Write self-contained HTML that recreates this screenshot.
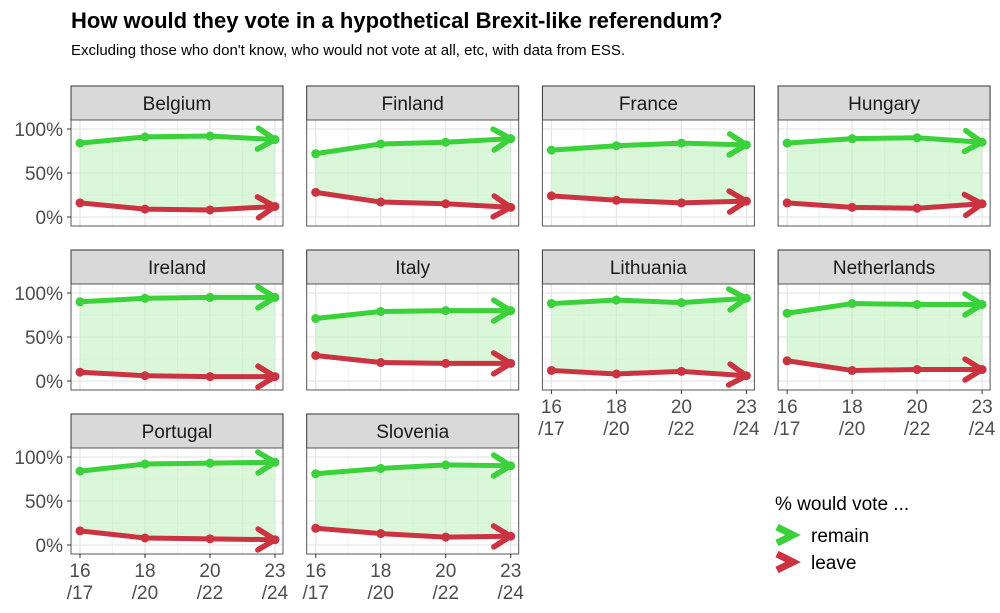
<!DOCTYPE html>
<html><head><meta charset="utf-8">
<style>
body{margin:0;background:#fff;}
svg{display:block;font-family:"Liberation Sans",Arial,sans-serif;}
</style></head>
<body>
<svg id="chart" width="1000" height="613" viewBox="0 0 1000 613">
<text x="71" y="28" font-size="22" font-weight="bold" fill="#000">How would they vote in a hypothetical Brexit-like referendum?</text>
<text x="71" y="55" font-size="15" fill="#000">Excluding those who don't know, who would not vote at all, etc, with data from ESS.</text>
<g id="panels"></g>
<g>
<text x="775" y="510" font-size="19" fill="#000">% would vote ...</text>
<g>
<path d="M777,527 L793,535 L777,543" fill="none" stroke="#3ad13a" stroke-width="7" stroke-linejoin="miter"/>
<text x="811" y="542" font-size="19" fill="#000">remain</text></g>
<g>
<path d="M777,554 L793,562 L777,570" fill="none" stroke="#cc3340" stroke-width="7" stroke-linejoin="miter"/>
<text x="811" y="569" font-size="19" fill="#000">leave</text></g>
</g>
</svg>
<script>
const countries = ["Belgium","Finland","France","Hungary","Ireland","Italy","Lithuania","Netherlands","Portugal","Slovenia"];
const waves = ["16/17","18/20","20/22","23/24"];
const remainValues = [
 [84,91,92,88],[72,83,85,89],[76,81,84,82],[84,89,90,85],
 [90,94,95,95],[71,79,80,80],[88,92,89,94],[77,88,87,87],
 [84,92,93,94],[81,87,91,90]];
const leaveValues = [
 [16,9,8,12],[28,17,15,11],[24,19,16,18],[16,11,10,15],
 [10,6,5,5],[29,21,20,20],[12,8,11,6],[23,12,13,13],
 [16,8,7,6],[19,13,9,10]];
const yTicks = [0,50,100];
const yTickLabels = ["0%","50%","100%"];

const NS="http://www.w3.org/2000/svg";
const root=document.getElementById('panels');
function mk(tag,attrs,parent){const e=document.createElementNS(NS,tag);for(const k in attrs)e.setAttribute(k,attrs[k]);(parent||root).appendChild(e);return e;}
const PW=212, colStep=235.7, rowStep=164, left0=71, stripTop0=86, stripH=34, plotH=106;
function panelGeom(i){const c=i%4,r=Math.floor(i/4);const x0=left0+c*colStep;const st=stripTop0+r*rowStep;return {x0,st,pt:st+stripH,c,r};}
function xs(g,j){return g.x0+9+j*(195/(waves.length-1));}
function ys(g,v){return g.pt+97-v*0.88;}
function arrowHead(g,parent,x1,y1,x2,y2,color){
  const a=Math.atan2(y2-y1,x2-x1),L=20,w=0.55;
  const p1=[x2-L*Math.cos(a-w),y2-L*Math.sin(a-w)],p2=[x2-L*Math.cos(a+w),y2-L*Math.sin(a+w)];
  return mk('path',{d:`M${p1[0]},${p1[1]} L${x2},${y2} L${p2[0]},${p2[1]}`,fill:'none',stroke:color,'stroke-width':5.5,'stroke-linecap':'round','stroke-linejoin':'round'},parent);
}
countries.forEach((name,i)=>{
  const g=panelGeom(i);
  const grp=mk('g',{});
  
  
  const strip=mk('rect',{x:g.x0,y:g.st,width:PW,height:stripH,fill:'#d9d9d9',stroke:'#333','stroke-width':1},grp);
  
  
  const st=mk('text',{x:g.x0+PW/2,y:g.st+24,'text-anchor':'middle','font-size':19,fill:'#1a1a1a'},grp);
  st.textContent=name;
  
  
  mk('rect',{x:g.x0,y:g.pt,width:PW,height:plotH,fill:'#fff'},grp);
  [25,75].forEach(v=>mk('line',{x1:g.x0,x2:g.x0+PW,y1:ys(g,v),y2:ys(g,v),stroke:'#f2f2f2','stroke-width':1},grp));
  for(let j=0;j<waves.length-1;j++){const xm=(xs(g,j)+xs(g,j+1))/2;mk('line',{x1:xm,x2:xm,y1:g.pt,y2:g.pt+plotH,stroke:'#f2f2f2','stroke-width':1},grp);}
  yTicks.forEach(v=>mk('line',{x1:g.x0,x2:g.x0+PW,y1:ys(g,v),y2:ys(g,v),stroke:'#e6e6e6','stroke-width':1.3},grp));
  waves.forEach((w,j)=>mk('line',{x1:xs(g,j),x2:xs(g,j),y1:g.pt,y2:g.pt+plotH,stroke:'#e6e6e6','stroke-width':1.3},grp));
  const R=remainValues[i],Lv=leaveValues[i];
  let d='';R.forEach((v,j)=>{d+=(j?'L':'M')+xs(g,j)+','+ys(g,v)+' ';});
  for(let j=Lv.length-1;j>=0;j--)d+='L'+xs(g,j)+','+ys(g,Lv[j])+' ';
  const rib=mk('path',{d:d+'Z',fill:'#b6f0b6','fill-opacity':0.5},grp);
  
  
  [[R,'#3ad13a','remain'],[Lv,'#cc3340','leave']].forEach(([vals,col,nm])=>{
    const pts=vals.map((v,j)=>xs(g,j)+','+ys(g,v)).join(' ');
    const ln=mk('polyline',{points:pts,fill:'none',stroke:col,'stroke-width':5,'stroke-linejoin':'round','stroke-linecap':'round'},grp);
    
    
    vals.forEach((v,j)=>{const c=mk('circle',{cx:xs(g,j),cy:ys(g,v),r:4.5,fill:col},grp);
      
      });
    const n=vals.length-1;
    const ah=arrowHead(g,grp,xs(g,n-1),ys(g,vals[n-1]),xs(g,n),ys(g,vals[n]),col);
    
    
  });
  mk('rect',{x:g.x0,y:g.pt,width:PW,height:plotH,fill:'none',stroke:'#555','stroke-width':1},grp);
  if(g.c===0){yTicks.forEach((v,k)=>{mk('line',{x1:g.x0-4,x2:g.x0,y1:ys(g,v),y2:ys(g,v),stroke:'#333'},grp);
    const t=mk('text',{x:g.x0-8,y:ys(g,v)+7,'text-anchor':'end','font-size':19,fill:'#4d4d4d'},grp);t.textContent=yTickLabels[k];
    
    });}
  const bottom=(i+4>=countries.length);
  if(bottom){waves.forEach((w,j)=>{mk('line',{x1:xs(g,j),x2:xs(g,j),y1:g.pt+plotH,y2:g.pt+plotH+4,stroke:'#333'},grp);
    const parts=w.split('/');
    const t1=mk('text',{x:xs(g,j),y:g.pt+plotH+23,'text-anchor':'middle','font-size':19,fill:'#4d4d4d'},grp);t1.textContent=parts[0];
    
    
    const t2=mk('text',{x:xs(g,j),y:g.pt+plotH+45,'text-anchor':'middle','font-size':19,fill:'#4d4d4d'},grp);t2.textContent='/'+parts[1];
    
    });}
});
</script>
</body></html>
